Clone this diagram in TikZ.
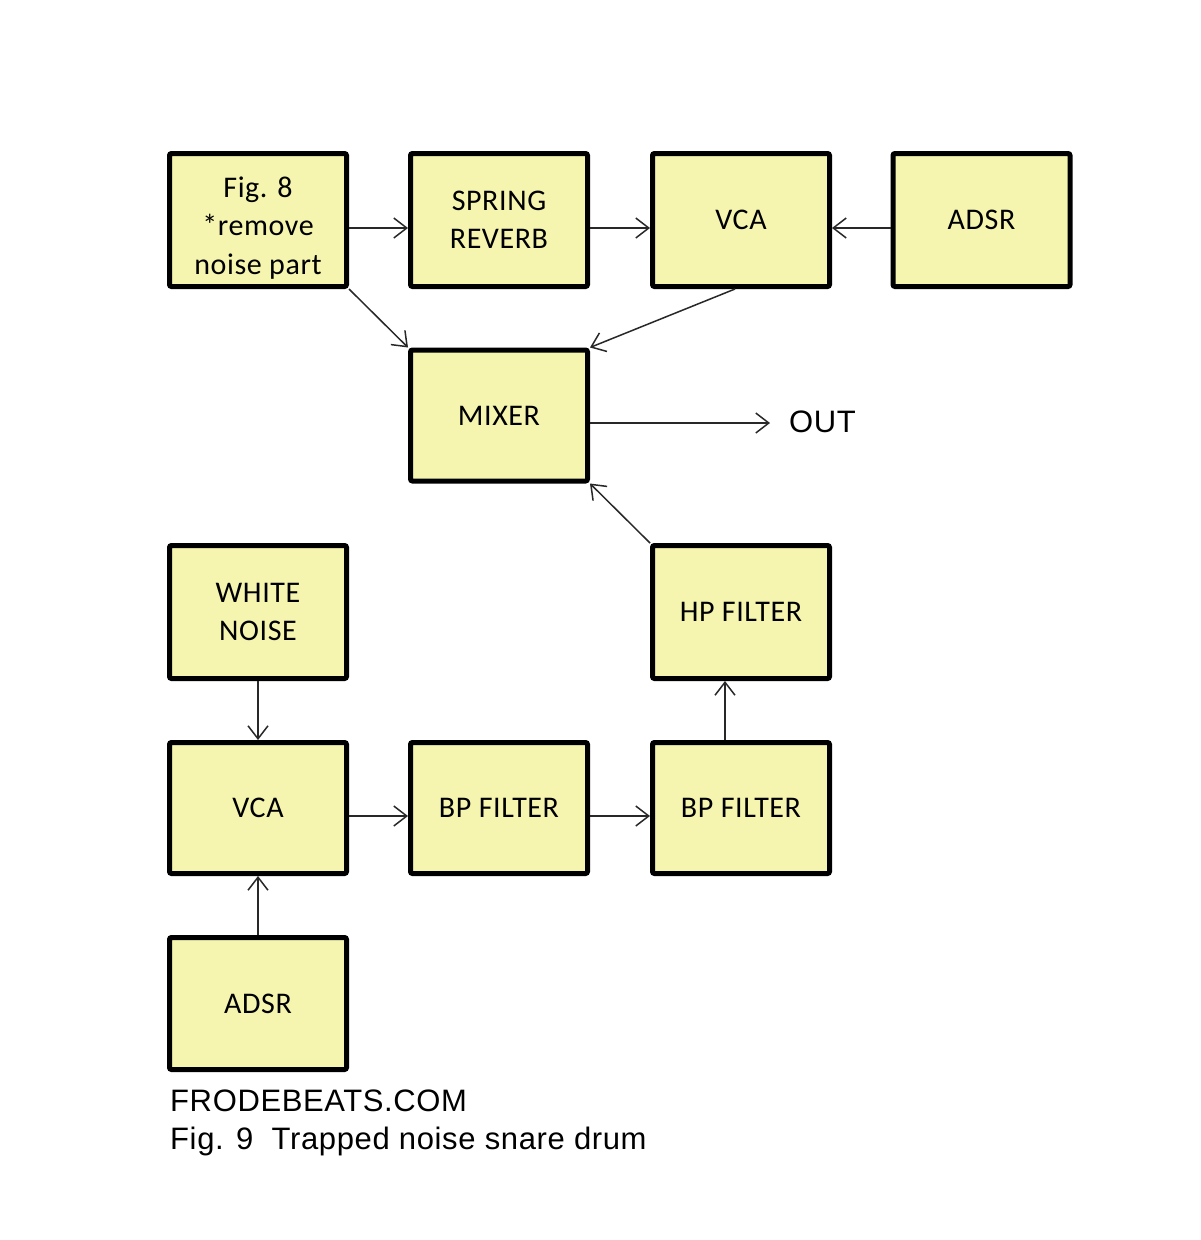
\documentclass[tikz,border=0pt]{standalone}
\usepackage{fontspec}
\setmainfont{Carlito}[LetterSpace=2]
\newfontfamily\arialf{Liberation Sans}[LetterSpace=2]
\usetikzlibrary{arrows.meta}
\definecolor{boxfill}{RGB}{245,245,176}
\definecolor{linec}{RGB}{40,40,40}
\begin{document}
\begin{tikzpicture}[x=1pt,y=-1pt,
  blk/.style={draw=black,fill=boxfill,line width=5pt,rounded corners=2pt,
    minimum width=177pt,minimum height=133pt,inner sep=0pt,align=center,
    font=\fontsize{30}{38}\selectfont},
  btxt/.style={inner sep=0pt,align=center,font=\fontsize{30}{38.5}\selectfont},
  conn/.style={draw=linec,line width=1.5pt,-{Straight Barb[length=13pt,width=20pt,line width=1.5pt]}},
  lbl/.style={font=\arialf\fontsize{31}{38}\selectfont,inner sep=0pt}]
\useasboundingbox[fill=white] (0,0) rectangle (1200,1240);
% top row
\node[blk] (f8) at (258,220) {};
\node[btxt] (f8t) at (258,228) {Fig. 8\\*remove\\noise part};
\node[blk] (spr) at (499,220) {SPRING\\REVERB};
\node[blk] (vca1) at (741,220) {VCA};
\node[blk] (adsr1) at (981.5,220) {ADSR};
% mixer
\node[blk,minimum height=131pt] (mix) at (499,415.5) {MIXER};
\node[lbl,anchor=west] (out) at (789,422) {OUT};
% middle
\node[blk] (hp) at (741,612) {HP FILTER};
\node[blk] (wn) at (258,612) {WHITE\\NOISE};
% lower row
\node[blk,minimum height=131pt] (vca2) at (258,808) {VCA};
\node[blk,minimum height=131pt] (bp1) at (499,808) {BP FILTER};
\node[blk,minimum height=131pt] (bp2) at (741,808) {BP FILTER};
\node[blk,minimum height=132pt] (adsr2) at (258,1003.5) {ADSR};
% footer
\node[lbl,anchor=base west] (site) at (170,1111) {FRODEBEATS.COM};
\node[lbl,anchor=base west] (cap) at (170,1149) {Fig. 9\ \ Trapped noise snare drum};
% connectors
\draw[conn] ([yshift=-8pt]f8.east) -- ([yshift=-8pt]spr.west);
\draw[conn] ([yshift=-8pt]spr.east) -- ([yshift=-8pt]vca1.west);
\draw[conn] ([yshift=-8pt]adsr1.west) -- ([yshift=-8pt]vca1.east);
\draw[conn] (f8.south east) -- (mix.north west);
\draw[conn] ([xshift=-6pt]vca1.south) -- (mix.north east);
\coordinate (outtip) at (770,423);
\draw[conn] (mix.east |- outtip) -- (outtip);
\draw[conn] (hp.north west) -- (mix.south east);
\draw[conn] (wn.south) -- (vca2.north);
\draw[conn] ([yshift=-8pt]vca2.east) -- ([yshift=-8pt]bp1.west);
\draw[conn] ([yshift=-8pt]bp1.east) -- ([yshift=-8pt]bp2.west);
\draw[conn] ([xshift=-16pt]bp2.north) -- ([xshift=-16pt]hp.south);
\draw[conn] (adsr2.north) -- (vca2.south);
\end{tikzpicture}
\end{document}
